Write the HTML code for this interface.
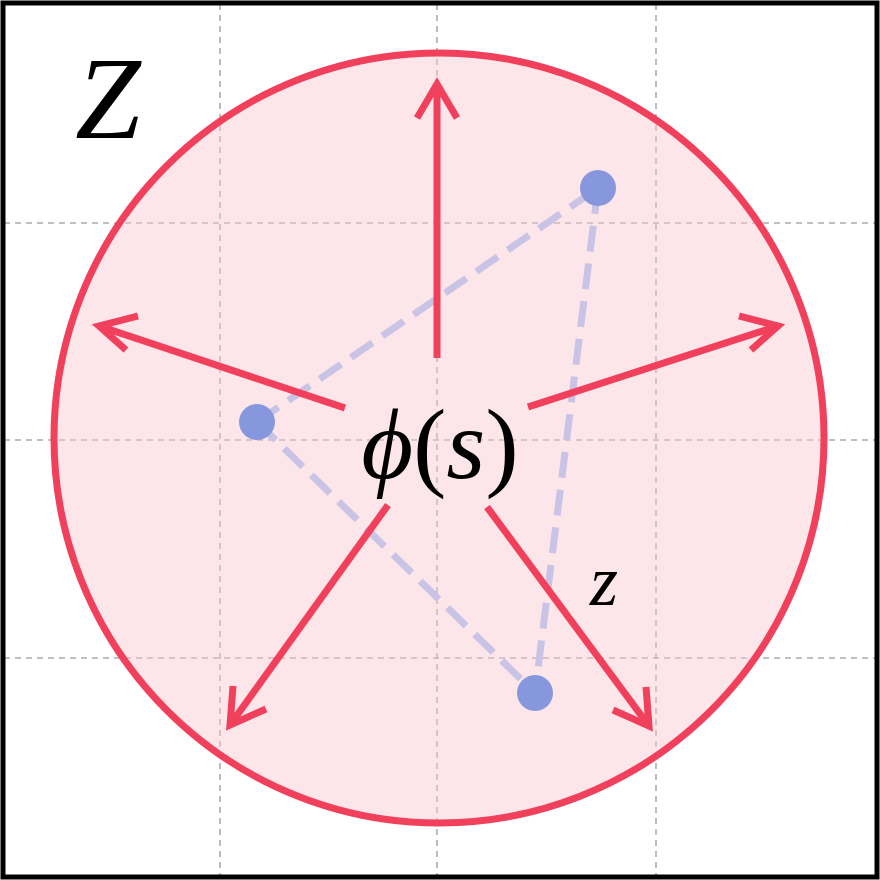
<!DOCTYPE html>
<html><head><meta charset="utf-8"><style>
html,body{margin:0;padding:0;background:#fff;}
svg{display:block;}
</style></head><body>
<svg width="880" height="880" viewBox="0 0 880 880" xmlns="http://www.w3.org/2000/svg">
<rect x="0" y="0" width="880" height="880" fill="#fff"/>
<g stroke="#999" stroke-width="1.3" stroke-dasharray="6,5">
<line x1="220" y1="4" x2="220" y2="876"/>
<line x1="437" y1="4" x2="437" y2="876"/>
<line x1="656" y1="4" x2="656" y2="876"/>
<line x1="4" y1="223" x2="876" y2="223"/>
<line x1="4" y1="440" x2="876" y2="440"/>
<line x1="4" y1="658" x2="876" y2="658"/>
</g>
<circle cx="439" cy="438" r="385" fill="rgba(250,200,208,0.45)" stroke="#f0405c" stroke-width="7"/>
<g stroke="#c9c3e6" stroke-width="7" stroke-dasharray="26,12" fill="none">
<line x1="257" y1="422" x2="598" y2="188"/>
<line x1="598" y1="188" x2="535" y2="693"/>
<line x1="257" y1="422" x2="535" y2="693"/>
</g>
<g fill="#8697dd">
<circle cx="257" cy="422" r="18"/>
<circle cx="598" cy="188" r="18"/>
<circle cx="535" cy="693" r="18"/>
</g>
<g stroke="#f0405c" stroke-width="7" fill="none" stroke-linecap="butt" stroke-linejoin="miter">
<line x1="437" y1="358" x2="437" y2="84"/>
<polyline points="417,118 437,84 457,118"/>
<line x1="345" y1="408" x2="99" y2="326"/>
<polyline points="126,350 99,326 138,316"/>
<line x1="528" y1="407" x2="778" y2="326"/>
<polyline points="739,316 778,326 751,350"/>
<line x1="388" y1="505" x2="230" y2="725"/>
<polyline points="233,686 230,725 266,709"/>
<line x1="487" y1="507" x2="649" y2="726"/>
<polyline points="613,710 649,726 646,687"/>
</g>
<text x="108" y="138" font-family="Liberation Serif, serif" font-style="italic" font-size="118" text-anchor="middle" fill="#000">Z</text>
<text x="440" y="478" font-family="Liberation Serif, serif" font-size="100" text-anchor="middle" fill="#000"><tspan font-style="italic">ϕ</tspan>(<tspan font-style="italic">s</tspan>)</text>
<text x="604" y="605" font-family="Liberation Serif, serif" font-style="italic" font-size="72" text-anchor="middle" fill="#000">z</text>
<rect x="3" y="3" width="874" height="874" fill="none" stroke="#000" stroke-width="5"/>
</svg>
</body></html>
